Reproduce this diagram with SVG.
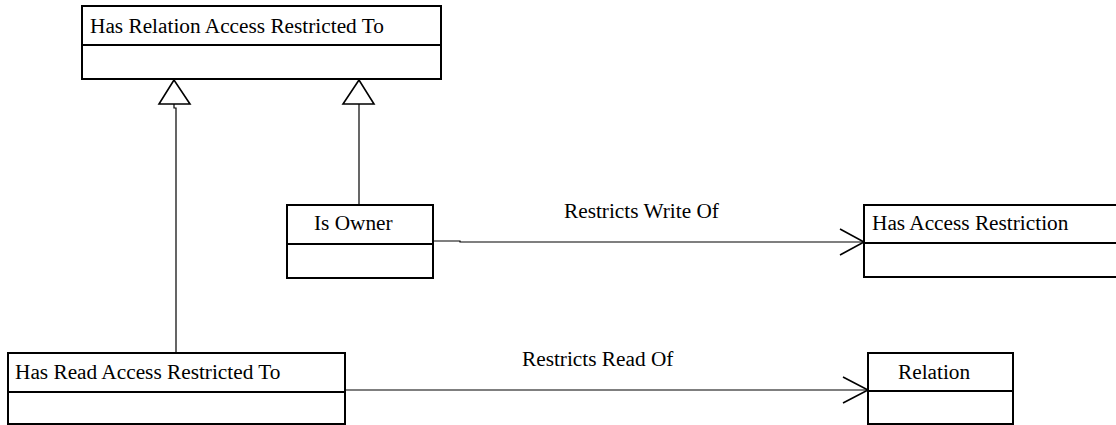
<svg xmlns="http://www.w3.org/2000/svg" width="1116" height="425" viewBox="0 0 1116 425">
  <style>
    .box { fill: #fff; stroke: #000; stroke-width: 2; }
    .div { stroke: #000; stroke-width: 2; }
    .lbl { font-family: "Liberation Serif", "Times New Roman", serif; font-size: 21.3px; fill: #000; }
    .conn { fill: none; stroke: #000; stroke-width: 1.2; }
    .tri { fill: #fff; stroke: #000; stroke-width: 1.6; }
    .arrow { fill: none; stroke: #000; stroke-width: 1.6; }
  </style>
  <rect width="1116" height="425" fill="#fff"/>

  <!-- connectors -->
  <g id="connectors">
    <!-- generalisations -->
    <path class="conn" d="M174,104 V108 H176 V353"/>
    <polygon class="tri" points="174,80 159,104 190,104"/>
    <path class="conn" d="M359,104 V205"/>
    <polygon class="tri" points="359,80 343,104 374,104"/>
    <!-- associations -->
    <path class="conn" d="M433,241 H460 V242 H864"/>
    <polyline class="arrow" points="840,229 864,242 840,255"/>
    <text class="lbl" x="564" y="218">Restricts Write Of</text>
    <path class="conn" d="M345,390 H868"/>
    <polyline class="arrow" points="843,377 868,390 843,403"/>
    <text class="lbl" x="522" y="366">Restricts Read Of</text>
  </g>

  <g id="has-relation-access-restricted-to">
    <rect class="box" x="82" y="6" width="359" height="73"/>
    <line class="div" x1="82" y1="45" x2="441" y2="45"/>
    <text class="lbl" x="90" y="33">Has Relation Access Restricted To</text>
  </g>

  <g id="is-owner">
    <rect class="box" x="287" y="205" width="146" height="73"/>
    <line class="div" x1="287" y1="244" x2="433" y2="244"/>
    <text class="lbl" x="314" y="230">Is Owner</text>
  </g>

  <g id="has-access-restriction">
    <rect class="box" x="864" y="205" width="260" height="72"/>
    <line class="div" x1="864" y1="243" x2="1124" y2="243"/>
    <text class="lbl" x="872" y="230">Has Access Restriction</text>
  </g>

  <g id="has-read-access-restricted-to">
    <rect class="box" x="8" y="353" width="337" height="71"/>
    <line class="div" x1="8" y1="392" x2="345" y2="392"/>
    <text class="lbl" x="15" y="379">Has Read Access Restricted To</text>
  </g>

  <g id="relation">
    <rect class="box" x="868" y="353" width="145" height="71"/>
    <line class="div" x1="868" y1="391" x2="1013" y2="391"/>
    <text class="lbl" x="898" y="379">Relation</text>
  </g>
</svg>
